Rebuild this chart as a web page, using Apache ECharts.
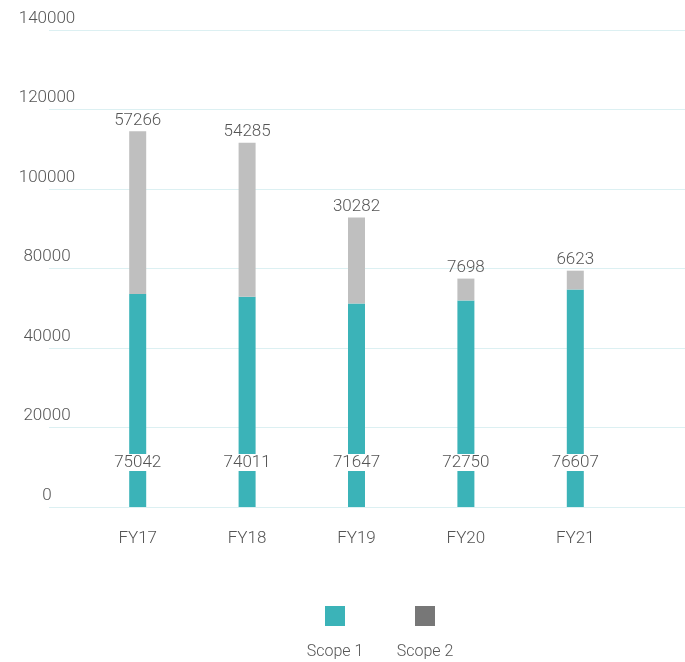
<!DOCTYPE html>
<html>
<head>
  <meta charset="utf-8">
  <script src="https://cdn.jsdelivr.net/npm/echarts@6/dist/echarts.min.js"></script>
  <style>
    html, body { margin: 0; padding: 0; background: #ffffff; }
    #chart { width: 685px; height: 662px; }
  </style>
</head>
<body>
  <div id="chart"></div>
  <script>
    // 数据
    const years = ['FY17', 'FY18', 'FY19', 'FY20', 'FY21']
    const scope1 = [75042, 74011, 71647, 72750, 76607]
    const scope2 = [57266, 54285, 30282, 7698, 6623]
    // y轴刻度文字 (原图如此, 没有 60000)
    const yTickLabels = ['0', '20000', '40000', '80000', '100000', '120000', '140000']
    const legendNames = ['Scope 1', 'Scope 2']

    const axisMax = 168000
    const axisStep = 28000
    const font = 'Roboto'
    const textColor = '#555555'

    const chart = echarts.init(document.getElementById('chart'))

    // 图例: 方块在上, 文字在下
    function legendBlock(name, color, left) {
      return {
        data: [{ name: name, itemStyle: { color: color } }],
        left: left, top: 606,
        padding: 0,
        icon: 'rect', itemWidth: 20, itemHeight: 20,
        selectedMode: false,
        formatter: function () { return '' }
      }
    }

    function legendText(name, x) {
      return {
        type: 'text', x: x, y: 652,
        style: { text: name, fontFamily: font, fontWeight: 300, fontSize: 16, fill: textColor, align: 'center', verticalAlign: 'middle' }
      }
    }

    const option = {
      backgroundColor: '#ffffff',
      grid: [
        { left: 49, right: 0, top: 30, bottom: 155 },
        { left: 83, right: 55, top: 30, bottom: 155 }
      ],
      legend: [
        legendBlock(legendNames[0], '#3bb3b8', 325),
        legendBlock(legendNames[1], '#777777', 415)
      ],
      graphic: [
        legendText(legendNames[0], 335),
        legendText(legendNames[1], 425)
      ],
      xAxis: [
        { type: 'category', gridIndex: 0, data: years, show: false },
        {
          type: 'category', gridIndex: 1, data: years,
          axisLine: { show: false },
          axisTick: { show: false },
          axisLabel: { fontFamily: font, fontWeight: 300, fontSize: 17, color: textColor, margin: 23 }
        }
      ],
      yAxis: [
        {
          type: 'value', gridIndex: 0, min: 0, max: axisMax, interval: axisStep,
          axisLine: { show: false },
          axisTick: { show: false },
          splitLine: { lineStyle: { color: '#dcf0f2', width: 1 } },
          axisLabel: {
            fontFamily: font, fontWeight: 300, fontSize: 17, color: textColor,
            align: 'center', verticalAlign: 'bottom', margin: 2,
            padding: [0, 0, 3, 0],
            formatter: function (v) { return yTickLabels[Math.round(v / axisStep)] }
          }
        },
        {
          type: 'value', gridIndex: 1, min: 0, max: axisMax, interval: axisStep,
          show: false, splitLine: { show: false }
        }
      ],
      series: [
        {
          name: 'Scope 1',
          type: 'bar',
          stack: 'total',
          xAxisIndex: 1, yAxisIndex: 1,
          barWidth: 17,
          itemStyle: { color: '#3bb3b8' },
          label: {
            show: true,
            position: 'insideBottom',
            distance: 36,
            fontFamily: font, fontWeight: 300, fontSize: 17, color: textColor,
            backgroundColor: '#ffffff',
            padding: [0, 3]
          },
          data: scope1
        },
        {
          name: 'Scope 2',
          type: 'bar',
          stack: 'total',
          xAxisIndex: 1, yAxisIndex: 1,
          barWidth: 17,
          itemStyle: { color: '#bfbfbf' },
          label: {
            show: true,
            position: 'top',
            distance: 2,
            fontFamily: font, fontWeight: 300, fontSize: 17, color: textColor
          },
          data: scope2
        }
      ]
    }

    chart.setOption(option)
  </script>
</body>
</html>
